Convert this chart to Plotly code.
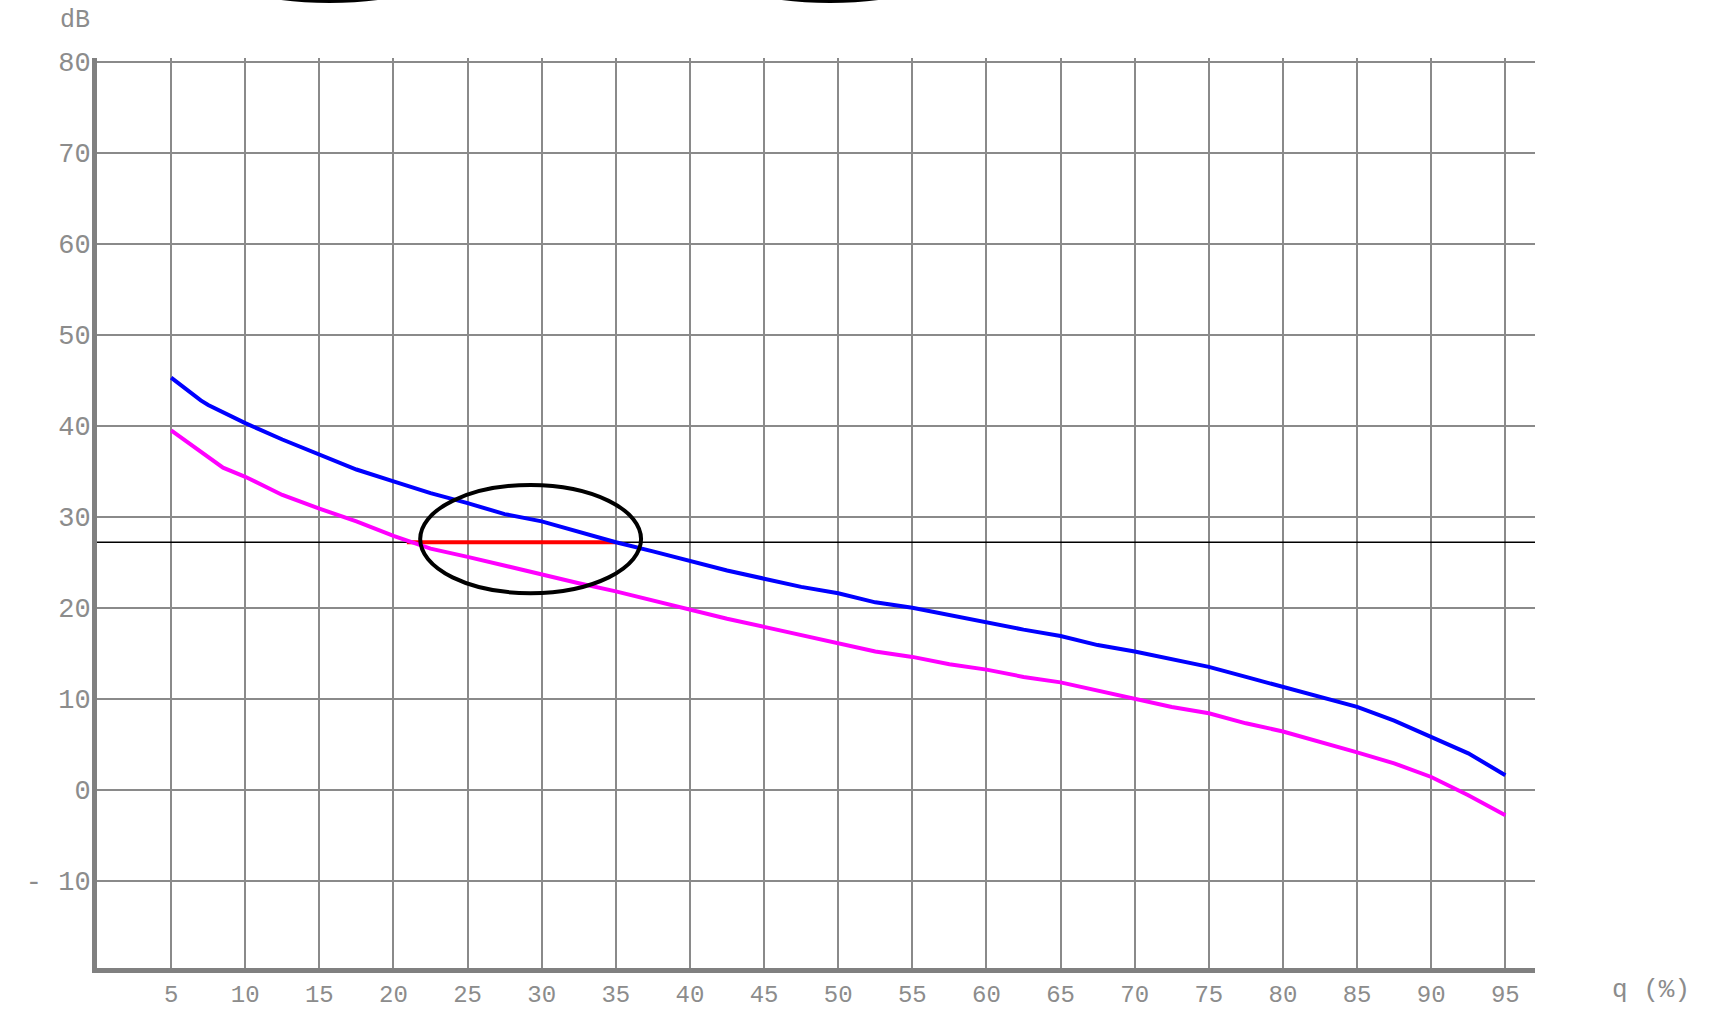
import plotly.graph_objects as go

# Percentile axis (q, %) and the two level curves in dB
q_blue = [5, 6, 7, 7.5, 10, 12.5, 15, 17.5, 20, 22.5, 25, 27.5, 30, 32.5, 35, 37.5,
          40, 42.5, 45, 47.5, 50, 52.5, 55, 57.5, 60, 62.5, 65, 67.5, 70, 72.5, 75,
          77.5, 80, 82.5, 85, 87.5, 90, 92.5, 95]
db_blue = [45.3, 44.0, 42.8, 42.3, 40.3, 38.5, 36.9, 35.2, 33.9, 32.6, 31.5, 30.3,
           29.5, 28.3, 27.2, 26.2, 25.1, 24.1, 23.2, 22.3, 21.6, 20.6, 20.0, 19.2,
           18.3, 17.6, 16.9, 15.9, 15.2, 14.3, 13.5, 12.4, 11.3, 10.3, 9.1, 7.6,
           5.8, 4.0, 1.6]

q_mag = [5, 6, 7, 7.5, 8.5, 10, 12.5, 15, 17.5, 20, 22.5, 25, 27.5, 30, 32.5, 35,
         37.5, 40, 42.5, 45, 47.5, 50, 52.5, 55, 57.5, 60, 62.5, 65, 67.5, 70, 72.5,
         75, 77.5, 80, 82.5, 85, 87.5, 90, 92.5, 95]
db_mag = [39.5, 38.3, 37.1, 36.6, 35.4, 34.4, 32.4, 30.9, 29.5, 27.9, 26.5, 25.6,
          24.6, 23.7, 22.7, 21.8, 20.8, 19.7, 18.8, 17.9, 17.0, 16.1, 15.2, 14.6,
          13.8, 13.2, 12.4, 11.8, 10.9, 10.1, 9.1, 8.4, 7.3, 6.4, 5.3, 4.1, 2.9,
          1.4, -0.6, -2.8]

# Threshold level and where each curve crosses it
threshold_db = 27.2
cross_q = [20.9, 35.0]

x_ticks = list(range(5, 100, 5))
y_ticks = [-10, 0, 10, 20, 30, 40, 50, 60, 70, 80]
y_ticktext = ["- 10", "0", "10", "20", "30", "40", "50", "60", "70", "80"]

X_RANGE = [0, 97.0]
Y_RANGE = [-19.6, 80.44]

W, H = 1710, 1009
M_L, M_R, M_T, M_B = 97, 175, 58, 41
PLOT_W = W - M_L - M_R
PLOT_H = H - M_T - M_B

GRID = "#8a8a8a"
TEXT = "#8c8c8c"
FONT = "Liberation Mono"


def px_to_paper(px, py):
    return (px - M_L) / PLOT_W, (H - M_B - py) / PLOT_H


fig = go.Figure()

# horizontal threshold line across the whole plot
fig.add_trace(go.Scatter(x=X_RANGE, y=[threshold_db, threshold_db], mode="lines",
                         line=dict(color="black", width=1.6), hoverinfo="skip"))
# span between the two crossings
fig.add_trace(go.Scatter(x=cross_q, y=[threshold_db, threshold_db], mode="lines",
                         line=dict(color="#ff0000", width=4), hoverinfo="skip"))
fig.add_trace(go.Scatter(x=q_mag, y=db_mag, mode="lines",
                         line=dict(color="#ff00ff", width=4)))
fig.add_trace(go.Scatter(x=q_blue, y=db_blue, mode="lines",
                         line=dict(color="#0000ff", width=4)))

# highlight ring around the crossing span
fig.add_shape(type="circle", xref="x", yref="y", x0=21.8, x1=36.7, y0=21.6, y1=33.5,
              line=dict(color="black", width=4), layer="above")

# rings reaching in from above the chart
for cx in (329.5, 830.0):
    x0, y0 = px_to_paper(cx - 150, 1)
    x1, y1 = px_to_paper(cx + 150, -119)
    fig.add_shape(type="circle", xref="paper", yref="paper",
                  x0=x0, x1=x1, y0=y0, y1=y1,
                  line=dict(color="black", width=4), layer="above")

# axis titles
ax, ay = px_to_paper(75, 21)
fig.add_annotation(text="dB", xref="paper", yref="paper", x=ax, y=ay,
                   showarrow=False, xanchor="center", yanchor="middle",
                   font=dict(family=FONT, size=25, color=TEXT))
ax, ay = px_to_paper(1651, 990)
fig.add_annotation(text="q (%)", xref="paper", yref="paper", x=ax, y=ay,
                   showarrow=False, xanchor="center", yanchor="middle",
                   font=dict(family=FONT, size=26, color=TEXT))

fig.update_xaxes(range=X_RANGE, tickvals=x_ticks, showgrid=True, gridcolor=GRID,
                 gridwidth=2, zeroline=False, showline=True, linecolor="#808080",
                 linewidth=5, ticks="", ticklabelstandoff=0, automargin=False,
                 tickfont=dict(family=FONT, size=24, color=TEXT))
fig.update_yaxes(range=Y_RANGE, tickvals=y_ticks, ticktext=y_ticktext, showgrid=True,
                 gridcolor=GRID, gridwidth=2, zeroline=False, showline=True,
                 linecolor="#808080", linewidth=5, ticks="", ticklabelstandoff=-4,
                 automargin=False, tickfont=dict(family=FONT, size=27, color=TEXT))

fig.update_layout(width=W, height=H, margin=dict(l=M_L, r=M_R, t=M_T, b=M_B),
                  plot_bgcolor="white", paper_bgcolor="white", showlegend=False)

fig.write_html("out.html")
